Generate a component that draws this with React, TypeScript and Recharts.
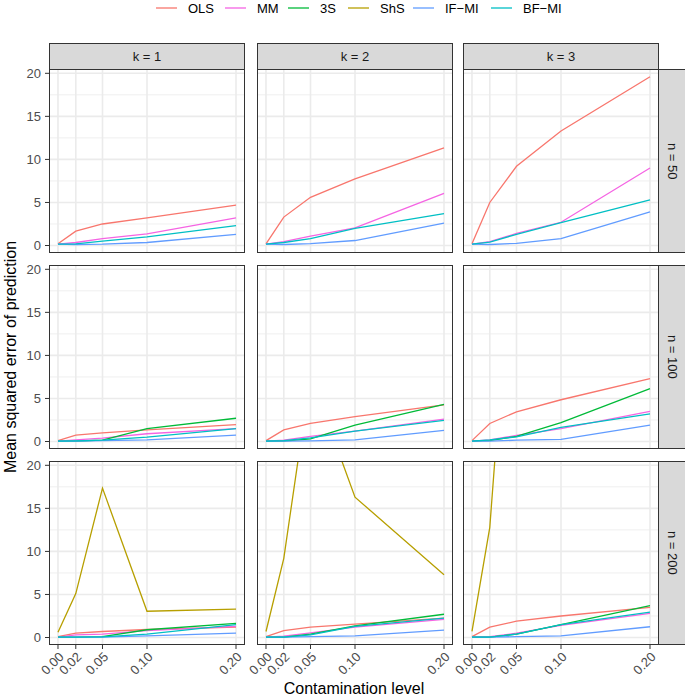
import React from 'react';
import { LineChart, Line, XAxis, YAxis, CartesianGrid } from 'recharts';

// ---- data ----
const contamination = [0, 0.02, 0.05, 0.1, 0.2];
const kLabels = ['k = 1', 'k = 2', 'k = 3'];
const nLabels = ['n = 50', 'n = 100', 'n = 200'];
const seriesNames = ['OLS', 'MM', '3S', 'ShS', 'IF−MI', 'BF−MI'];
const seriesColors = ['#F8766D', '#F564E3', '#00BA38', '#B79F00', '#619CFF', '#00BFC4'];
const yTicks = [0, 5, 10, 15, 20];
const yMinorTicks = [2.5, 7.5, 12.5, 17.5];

const N = null;
const NONE = [N, N, N, N, N];

// values indexed [n][k][contamination]
const OLS = [
  [[0.2, 1.67, 2.5, 3.2, 4.7], [0.2, 3.3, 5.6, 7.75, 11.35], [0.2, 5.0, 9.2, 13.3, 19.6]],
  [[0.1, 0.75, 1.0, 1.35, 1.95], [0.1, 1.35, 2.1, 2.9, 4.25], [0.1, 2.1, 3.45, 4.85, 7.3]],
  [[0.1, 0.5, 0.7, 0.93, 1.2], [0.1, 0.8, 1.2, 1.55, 2.25], [0.1, 1.2, 1.9, 2.5, 3.5]],
];
const MM = [
  [[0.15, 0.35, 0.8, 1.35, 3.2], [0.15, 0.45, 1.1, 2.05, 6.05], [0.15, 0.45, 1.4, 2.7, 9.0]],
  [[0.05, 0.2, 0.4, 0.9, 1.5], [0.05, 0.15, 0.6, 1.2, 2.6], [0.05, 0.2, 0.7, 1.5, 3.5]],
  [[0.05, 0.3, 0.4, 0.8, 1.3], [0.05, 0.15, 0.55, 1.2, 2.1], [0.05, 0.1, 0.5, 1.4, 2.8]],
];
const S3 = [
  [NONE, NONE, NONE],
  [[0.05, 0.05, 0.15, 1.5, 2.7], [0.05, 0.05, 0.3, 1.9, 4.3], [0.05, 0.1, 0.6, 2.2, 6.15]],
  [[0.05, 0.05, 0.1, 0.9, 1.65], [0.05, 0.05, 0.4, 1.35, 2.7], [0.05, 0.05, 0.4, 1.5, 3.7]],
];
const ShS = [
  [NONE, NONE, NONE],
  [NONE, NONE, NONE],
  [[0.62, 5.1, 17.35, 3.05, 3.3], [0.7, 9.2, 30.5, 16.3, 7.3], [0.7, 12.8, 54, N, N]],
];
const IFMI = [
  [[0.15, 0.12, 0.15, 0.35, 1.3], [0.15, 0.12, 0.23, 0.58, 2.6], [0.15, 0.12, 0.25, 0.8, 3.9]],
  [[0.05, 0.05, 0.1, 0.2, 0.75], [0.05, 0.05, 0.08, 0.2, 1.3], [0.05, 0.05, 0.15, 0.25, 1.9]],
  [[0.05, 0.05, 0.05, 0.2, 0.5], [0.05, 0.05, 0.1, 0.2, 0.85], [0.05, 0.05, 0.1, 0.2, 1.25]],
];
const BFMI = [
  [[0.15, 0.2, 0.5, 1.0, 2.3], [0.15, 0.35, 0.8, 2.0, 3.7], [0.15, 0.4, 1.3, 2.65, 5.3]],
  [[0.05, 0.08, 0.15, 0.5, 1.5], [0.05, 0.1, 0.43, 1.2, 2.45], [0.05, 0.2, 0.55, 1.65, 3.2]],
  [[0.05, 0.05, 0.08, 0.4, 1.5], [0.05, 0.05, 0.3, 1.3, 2.25], [0.05, 0.05, 0.4, 1.5, 2.95]],
];
const seriesValues = [OLS, MM, S3, ShS, IFMI, BFMI];

// ---- layout ----
const FONT = '"Liberation Sans", Arial, Helvetica, sans-serif';
const colLeft = [49, 257, 463];
const rowTop = [69, 265, 461];
const PW = 196;
const PH = 184;
const YAXIS_W = 30;
const XAXIS_H = 42;
const MARGIN = { top: 10, right: 10, bottom: 0, left: 24 };
const legendX = [156, 225, 288, 348, 413, 491];
const X_DOMAIN = [-0.0101, 0.2101];
const Y_DOMAIN = [-0.87, 20.5];
const GRID = '#EBEBEB';
const BORDER = '#333333';

function buildData(ni: number, ki: number) {
  return contamination.map((x, ci) => {
    const row: any = { x };
    seriesNames.forEach((name, si) => {
      row[name] = seriesValues[si][ni][ki][ci];
    });
    return row;
  });
}

const XTick = (props: any) => {
  const { x, y, payload } = props;
  return (
    <text
      x={x}
      y={y}
      transform={`rotate(-45 ${x} ${y})`}
      textAnchor="end"
      dy="0.71em"
      fontSize={13}
      fill="#4D4D4D"
      fontFamily={FONT}
    >
      {Number(payload.value).toFixed(2)}
    </text>
  );
};

function Panel({ ni, ki }: { ni: number; ki: number }) {
  const isLeft = ki === 0;
  const isBottom = ni === 2;
  const w = PW + (isLeft ? YAXIS_W : 0) + MARGIN.left + MARGIN.right;
  const h = PH + (isBottom ? XAXIS_H : 0) + MARGIN.top + MARGIN.bottom;
  const left = colLeft[ki] - (isLeft ? YAXIS_W : 0) - MARGIN.left;
  const top = rowTop[ni] - MARGIN.top;
  return (
    <div style={{ position: 'absolute', left, top, width: w, height: h }}>
      <LineChart width={w} height={h} data={buildData(ni, ki)} margin={MARGIN}>
        <CartesianGrid
          stroke={GRID}
          strokeWidth={0.8}
          horizontalValues={yMinorTicks}
          vertical={false}
        />
        <CartesianGrid
          stroke={GRID}
          strokeWidth={1.6}
          horizontalValues={yTicks}
          verticalValues={contamination}
        />
        <XAxis
          dataKey="x"
          type="number"
          domain={X_DOMAIN}
          ticks={contamination}
          allowDataOverflow
          hide={!isBottom}
          height={XAXIS_H}
          axisLine={false}
          tickLine={{ stroke: BORDER, strokeWidth: 1 }}
          tickSize={4}
          tickMargin={2}
          tick={<XTick />}
          interval={0}
        />
        <YAxis
          type="number"
          domain={Y_DOMAIN}
          ticks={yTicks}
          allowDataOverflow
          hide={!isLeft}
          width={YAXIS_W}
          axisLine={false}
          tickLine={{ stroke: BORDER, strokeWidth: 1 }}
          tickSize={4}
          tickMargin={4}
          tick={{ fontSize: 13, fill: '#4D4D4D', fontFamily: FONT }}
          interval={0}
        />
        {seriesNames.map((name, si) => (
          <Line
            key={name}
            type="linear"
            dataKey={name}
            stroke={seriesColors[si]}
            strokeWidth={1.3}
            dot={false}
            activeDot={false}
            isAnimationActive={false}
            connectNulls={false}
          />
        ))}
      </LineChart>
    </div>
  );
}

export default function App() {
  return (
    <div
      style={{
        position: 'absolute',
        left: 0,
        top: 0,
        width: 685,
        height: 700,
        background: '#FFFFFF',
        fontFamily: FONT,
        overflow: 'hidden',
      }}
    >
      {/* legend */}
      <svg width={685} height={20} style={{ position: 'absolute', left: 0, top: 0 }}>
        {seriesNames.map((name, si) => (
          <g key={name}>
            <line x1={legendX[si]} x2={legendX[si] + 21} y1={8} y2={8} stroke={seriesColors[si]} strokeWidth={1.3} />
            <text x={legendX[si] + 32} y={8} dy="0.36em" fontSize={13} fill="#000" fontFamily={FONT}>
              {name}
            </text>
          </g>
        ))}
      </svg>

      {nLabels.map((_, ni) => kLabels.map((__, ki) => <Panel key={`${ni}-${ki}`} ni={ni} ki={ki} />))}

      {/* panel borders */}
      {nLabels.map((_, ni) =>
        kLabels.map((__, ki) => (
          <div
            key={`b-${ni}-${ki}`}
            style={{
              position: 'absolute',
              left: colLeft[ki],
              top: rowTop[ni],
              width: PW,
              height: PH,
              border: `1px solid ${BORDER}`,
              boxSizing: 'border-box',
              pointerEvents: 'none',
            }}
          />
        ))
      )}

      {/* top strips */}
      {kLabels.map((lab, ki) => (
        <div
          key={`s-${ki}`}
          style={{
            position: 'absolute',
            left: colLeft[ki],
            top: 43,
            width: PW,
            height: 27,
            background: '#D9D9D9',
            border: `1px solid ${BORDER}`,
            boxSizing: 'border-box',
            display: 'flex',
            alignItems: 'center',
            justifyContent: 'center',
            fontSize: 13,
            color: '#1A1A1A',
          }}
        >
          {lab}
        </div>
      ))}

      {/* right strips */}
      {nLabels.map((lab, ni) => (
        <div
          key={`r-${ni}`}
          style={{
            position: 'absolute',
            left: colLeft[2] + PW - 1,
            top: rowTop[ni],
            width: 28,
            height: PH,
            background: '#D9D9D9',
            border: `1px solid ${BORDER}`,
            boxSizing: 'border-box',
            display: 'flex',
            alignItems: 'center',
            justifyContent: 'center',
            fontSize: 13,
            color: '#1A1A1A',
          }}
        >
          <span style={{ writingMode: 'vertical-rl' }}>{lab}</span>
        </div>
      ))}

      {/* axis titles */}
      <div
        style={{
          position: 'absolute',
          left: colLeft[0],
          width: colLeft[2] + PW - colLeft[0],
          top: 680,
          textAlign: 'center',
          fontSize: 16,
          color: '#000',
          lineHeight: '18px',
        }}
      >
        Contamination level
      </div>
      <svg width={24} height={700} style={{ position: 'absolute', left: 0, top: 0 }}>
        <text
          x={0}
          y={0}
          transform={`translate(16 ${(rowTop[0] + rowTop[2] + PH) / 2}) rotate(-90)`}
          textAnchor="middle"
          fontSize={16}
          fill="#000"
          fontFamily={FONT}
        >
          Mean squared error of prediction
        </text>
      </svg>
    </div>
  );
}
